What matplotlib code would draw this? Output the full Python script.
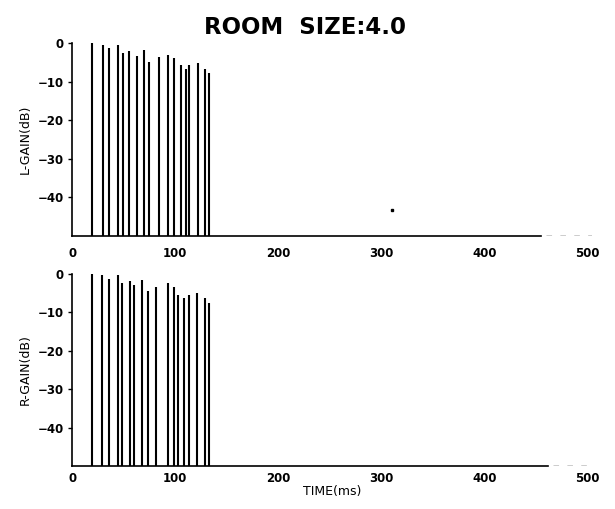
import matplotlib
matplotlib.use('Agg')
import matplotlib.pyplot as plt

plt.rcParams['font.family'] = ['Liberation Sans Narrow', 'DejaVu Sans']

# Reflection times (ms) and gains (dB)
l_time = [19.4, 30.1, 35.3, 44.1, 49.5, 55.1, 62.5, 69.9, 74.4, 83.9,
          92.6, 98.7, 105.2, 110.4, 113.3, 122.0, 128.5, 132.8]
l_gain = [0.0, -0.4, -1.3, -0.3, -2.6, -2.0, -3.3, -1.7, -4.8, -3.5,
          -3.0, -3.7, -5.6, -6.6, -5.7, -5.2, -6.7, -7.6]

r_time = [19.4, 28.8, 35.9, 44.1, 48.3, 56.3, 60.2, 68.0, 73.8, 81.6,
          92.6, 98.4, 102.9, 108.2, 113.6, 121.4, 128.5, 132.7]
r_gain = [0.0, -0.4, -1.3, -0.3, -2.5, -1.8, -2.9, -1.5, -4.5, -3.4,
          -2.3, -3.4, -5.5, -6.3, -5.5, -5.0, -6.3, -7.6]

floor_db = -50
xticks = [0, 100, 200, 300, 400, 500]
yticks = [0, -10, -20, -30, -40]

fig = plt.figure(figsize=(6.15, 5.09), dpi=100)
ax1 = fig.add_axes([0.1176, 0.5369, 0.8455, 0.3800])
ax2 = fig.add_axes([0.1176, 0.0845, 0.8455, 0.3798])

tick_font = dict(fontsize=8.5, fontweight='bold')

for ax, t, g, lab, solid_end, xpad in [(ax1, l_time, l_gain, 'L-GAIN(dB)', 455, 8),
                                       (ax2, r_time, r_gain, 'R-GAIN(dB)', 462, 4)]:
    ax.vlines(t, floor_db, g, colors='black', linewidth=1.5)
    ax.set_xlim(0, 505)
    ax.set_ylim(floor_db, 0.3)
    for s in ['top', 'right']:
        ax.spines[s].set_visible(False)
    ax.spines['bottom'].set_bounds(0, solid_end)
    ax.spines['bottom'].set_position(('data', floor_db))
    ax.spines['left'].set_bounds(floor_db, 0)
    ax.spines['left'].set_linewidth(1.2)
    ax.spines['bottom'].set_linewidth(1.2)
    # broken tail of the baseline
    ax.plot([solid_end + 5, 505], [floor_db, floor_db], color='black', lw=1.0,
            linestyle=(0, (4, 6)))
    ax.set_xticks(xticks)
    ax.set_yticks(yticks)
    ax.set_xticklabels([str(v) for v in xticks], **tick_font)
    ax.set_yticklabels(['0'] + ['\u221210', '\u221220', '\u221230', '\u221240'], **tick_font)
    ax.tick_params(axis='x', length=0, pad=xpad)
    ax.tick_params(axis='y', length=3, width=1, pad=3)
    ax.set_ylabel(lab, fontsize=9, labelpad=4)

# stray dot in the upper panel
ax1.plot([310], [-43.2], 's', color='black', markersize=1.5)

ax2.set_xlabel('TIME(ms)', fontsize=9, labelpad=0)

fig.text(0.496, 0.946, 'ROOM  SIZE:4.0', ha='center', va='center',
         fontsize=16.5, fontweight='bold', family=['DejaVu Sans'])

fig.savefig('out.png', dpi=100)
